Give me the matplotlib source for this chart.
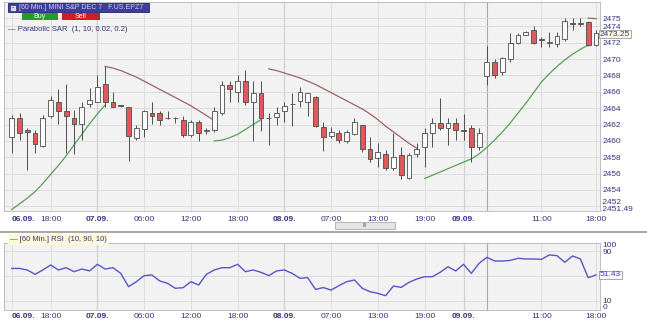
import numpy as np
import matplotlib
matplotlib.use("Agg")
import matplotlib.pyplot as plt
from matplotlib.patches import Rectangle

# 60 min candles, MINI S&P DEC 7
opens = [2460.5, 2462.8, 2461.3, 2461.0, 2459.4, 2463.0, 2464.8, 2463.6, 2462.8, 2462.1,
         2464.5, 2464.8, 2467.0, 2464.7, 2464.35, 2464.1, 2460.4, 2461.4, 2463.4, 2463.4,
         2462.75, 2462.85, 2462.6, 2460.7, 2462.3, 2461.25, 2461.3, 2463.4, 2466.8, 2466.0,
         2467.3, 2464.8, 2465.9, 2462.85, 2462.9, 2463.6, 2464.55, 2464.9, 2464.8, 2465.4,
         2461.7, 2460.6, 2461.0, 2460.0, 2460.8, 2462.0, 2459.0, 2457.9, 2458.4, 2456.7,
         2458.3, 2455.5, 2458.4, 2459.3, 2461.0, 2462.2, 2461.6, 2462.2, 2461.35, 2461.6,
         2459.3, 2467.9, 2469.6, 2468.4, 2470.0, 2472.0, 2473.0, 2473.5, 2472.45, 2472.0,
         2471.8, 2472.4, 2474.45, 2474.45, 2474.5, 2471.7]
highs = [2463.2, 2463.4, 2461.6, 2461.3, 2463.2, 2465.5, 2466.3, 2467.0, 2463.8, 2464.7,
         2466.5, 2468.0, 2469.1, 2466.0, 2464.4, 2464.2, 2462.0, 2463.8, 2464.7, 2463.6,
         2463.6, 2462.9, 2463.0, 2462.6, 2462.6, 2461.6, 2464.2, 2467.3, 2467.3, 2468.0,
         2468.7, 2467.3, 2467.3, 2463.4, 2464.2, 2464.8, 2465.9, 2466.6, 2465.9, 2465.5,
         2462.3, 2461.7, 2461.3, 2461.3, 2462.8, 2462.0, 2460.5, 2459.7, 2458.9, 2461.0,
         2459.3, 2458.5, 2459.7, 2461.6, 2462.8, 2465.2, 2462.8, 2462.8, 2463.3, 2462.0,
         2461.6, 2471.6, 2470.0, 2470.3, 2473.2, 2473.2, 2473.4, 2474.0, 2472.7, 2473.3,
         2473.3, 2475.0, 2475.0, 2475.0, 2474.6, 2473.6]
lows = [2458.5, 2460.1, 2456.5, 2458.5, 2459.3, 2462.8, 2462.1, 2458.5, 2458.4, 2460.1,
        2464.2, 2464.7, 2464.1, 2464.1, 2464.2, 2457.5, 2460.1, 2460.5, 2462.1, 2462.0,
        2462.7, 2462.2, 2460.5, 2460.5, 2460.0, 2460.9, 2461.1, 2463.2, 2464.8, 2464.8,
        2464.4, 2460.0, 2461.2, 2459.5, 2462.0, 2462.3, 2461.8, 2464.2, 2463.1, 2461.7,
        2458.8, 2460.4, 2459.7, 2459.7, 2460.7, 2458.6, 2457.4, 2456.8, 2456.4, 2456.4,
        2455.4, 2455.4, 2458.0, 2456.8, 2459.3, 2461.3, 2459.5, 2460.1, 2460.1, 2457.4,
        2458.9, 2466.8, 2467.7, 2468.0, 2469.7, 2471.9, 2472.9, 2471.9, 2471.5, 2471.5,
        2471.5, 2472.2, 2473.6, 2474.0, 2471.6, 2471.6]
closes = [2462.8, 2461.0, 2461.1, 2459.6, 2462.8, 2465.0, 2463.6, 2463.0, 2462.1, 2464.2,
          2465.0, 2466.6, 2464.7, 2464.2, 2464.25, 2460.6, 2461.6, 2463.6, 2463.1, 2462.6,
          2462.85, 2462.75, 2460.7, 2462.3, 2461.0, 2461.35, 2463.6, 2466.8, 2466.4, 2467.3,
          2464.8, 2465.9, 2462.8, 2462.75, 2463.4, 2464.3, 2464.45, 2466.0, 2465.8, 2461.8,
          2460.5, 2461.1, 2460.1, 2461.1, 2462.3, 2459.0, 2457.8, 2458.7, 2456.7, 2458.0,
          2455.8, 2458.3, 2459.0, 2461.0, 2462.2, 2461.6, 2462.2, 2461.3, 2461.25, 2459.3,
          2461.0, 2469.6, 2468.0, 2470.1, 2472.0, 2473.0, 2473.3, 2472.0, 2472.35, 2472.1,
          2472.8, 2474.6, 2474.35, 2474.35, 2471.7, 2473.25]

nan = np.nan
# Parabolic SAR (1, 10, 0.02, 0.2) - long side (green) and short side (brown)
sar_long = ([2451.6, 2452.3, 2453.0, 2453.8, 2454.8, 2455.9, 2457.0, 2458.2, 2459.5, 2460.8,
             2462.1, 2463.3, 2464.4] + [nan] * 13 +
            [2460.0, 2460.1, 2460.4, 2460.8, 2461.4, 2462.0, 2462.6] + [nan] * 20 +
            [2455.4, 2455.8, 2456.2, 2456.6, 2457.0, 2457.4, 2457.8, 2458.4, 2459.2, 2460.1,
             2461.1, 2462.2, 2463.4, 2464.6, 2465.9, 2467.2, 2468.2, 2469.1, 2469.9, 2470.6,
             2471.2, 2471.7] + [nan])
sar_short = ([nan] * 12 +
             [2469.1, 2468.9, 2468.6, 2468.2, 2467.8, 2467.3, 2466.8, 2466.3, 2465.8, 2465.3,
              2464.8, 2464.3, 2463.7, 2463.1, 2462.5] + [nan] * 6 +
             [2468.8, 2468.6, 2468.3, 2468.0, 2467.7, 2467.3, 2466.9, 2466.4, 2465.9, 2465.4,
              2464.9, 2464.4, 2463.9, 2463.3, 2462.6, 2461.8, 2461.1, 2460.4, 2459.7, 2459.1]
             + [nan] * 21 + [2475.0, 2474.95])

rsi = [62, 62, 59.5, 52.5, 59.5, 67.6, 59.5, 63.2, 56.7, 61,
       58, 68.7, 61, 63.2, 54, 32.4, 40.5, 50.3, 51.4, 41.7,
       37.9, 29.8, 30.8, 40.5, 35.2, 52.5, 59.5, 63.2, 63.2, 68.7,
       56.7, 59.5, 55.7, 50.3, 58, 59.5, 54, 46, 47, 28,
       31, 27, 34, 40.5, 43.3, 29.8, 24.3, 21.6, 17.8, 33.5,
       31.3, 39.5, 44.9, 48.6, 48.6, 55.7, 64.8, 57.9, 68.7, 54,
       70.3, 80, 74, 74, 75, 78.4, 77.3, 77.3, 76.7, 83.8,
       82.7, 72, 82.2, 77.3, 47, 51.43]

tick_pos = [0, 5, 11, 17, 23, 29, 35, 41, 47, 53, 58, 68, 75]
tick_lab = ["06.09.", "18:00", "07.09.", "06:00", "12:00", "18:00", "08.09.",
            "07:00", "13:00", "19:00", "09.09.", "11:00", "18:00"]
day_lines = [11, 35, 58, 61]
price_ticks = [2454, 2456, 2458, 2460, 2462, 2464, 2466, 2468, 2470, 2472, 2474, 2475]

plt.rcParams['font.family'] = ['Liberation Sans', 'DejaVu Sans']
navy = '#34347c'
bg = '#f2f2f2'
grid_c = '#d9d9d9'

W, H = 647, 325
fig = plt.figure(figsize=(W / 100, H / 100), dpi=100, facecolor='white')


def box(l, t, r, b):
    return [l / W, 1 - b / H, (r - l) / W, (b - t) / H]


ax = fig.add_axes(box(4, 2, 600, 210.5))
ax2 = fig.add_axes(box(4, 243, 600, 310))

x = np.arange(len(opens))
o = np.array(opens)
c = np.array(closes)

for a in (ax, ax2):
    a.set_facecolor(bg)
    a.set_xlim(-0.99, 75.52)
    a.set_xticks(tick_pos)
    a.set_xticklabels(tick_lab)
    for lab in a.get_xticklabels():
        if "." in lab.get_text():
            lab.set_fontweight("bold")
    a.get_xticklabels()[0].set_ha("left")
    a.tick_params(axis='both', length=0, labelsize=6, colors=navy, pad=2)
    a.yaxis.tick_right()
    a.grid(True, color=grid_c, lw=0.6)
    a.set_axisbelow(True)
    for d in day_lines:
        a.axvline(d, color='#a9a9a9', lw=0.8, zorder=0.5)
    for s in a.spines.values():
        s.set_color('#b5b5b5')
        s.set_linewidth(0.6)

# main price panel
ax.set_ylim(2451.49, 2476.98)
ax.set_yticks(price_ticks)
ax.axhline(2452, color=grid_c, lw=0.6, zorder=0.4)
ax.tick_params(axis='x', pad=4)

ax.plot(x, sar_long, color='#5a9e5a', lw=0.9, zorder=2)
ax.plot(x, sar_short, color='#a06262', lw=0.9, zorder=2)

edge = '#4d4d4d'
up = c >= o
ax.vlines(x, lows, highs, color=edge, lw=0.7, zorder=3)
body_h = np.maximum(np.abs(c - o), 0.08)
ax.bar(x, body_h, bottom=np.minimum(o, c), width=0.62,
       color=np.where(up, '#fbfbfb', '#e2575a'), edgecolor=edge, linewidth=0.6, zorder=4)

yt = ax.get_yaxis_transform()
ax.text(1.0, 2452.5, " 2452", transform=yt, fontsize=6, color=navy, va='center', ha='left')
ax.text(1.0, 2451.62, " 2451.49", transform=yt, fontsize=6, color=navy, va='center', ha='left')
ax.text(1.0, closes[-1] - 0.2, "2473.25", transform=yt,
        fontsize=6, color=navy, va='center', ha='left',
        bbox=dict(facecolor='#fdfbe0', edgecolor='#888888', lw=0.5, pad=0.4))

# rsi panel
ax2.set_ylim(-5.35, 103.2)
ax2.set_yticks([0, 10, 90, 100])
ax2.grid(False, axis='y')
for lv in (10, 50, 90):
    ax2.axhline(lv, color=grid_c, lw=0.6, zorder=0.4)
ax2.plot(x, rsi, color='#5656c8', lw=1.0, zorder=3)
ax2.text(1.0, rsi[-1], "51.43", transform=ax2.get_yaxis_transform(),
         fontsize=6, color='#3c3cc0', va='center', ha='left',
         bbox=dict(facecolor='#f8f8ff', edgecolor='#888888', lw=0.5, pad=0.6))

# header box, buttons, legends
fig.patches.append(Rectangle((8 / W, 1 - 12 / H), 141 / W, 9 / H, transform=fig.transFigure,
                             facecolor='#3d3d9e', edgecolor='#24246a', lw=0.6))
fig.patches.append(Rectangle((10 / W, 1 - 11 / H), 6 / W, 6 / H, transform=fig.transFigure,
                             facecolor='#d8d8f0', edgecolor='#20205a', lw=0.4))
fig.text(13 / W, 1 - 8 / H, "-", fontsize=5, color='#20205a', ha='center', va='center')
fig.text(19 / W, 1 - 7.5 / H, "[60 Min.] MINI S&P DEC 7   F.US.EPZ7", fontsize=5,
         color='#cfd0ff', ha='left', va='center')
fig.patches.append(Rectangle((22 / W, 1 - 19.5 / H), 36 / W, 6.5 / H, transform=fig.transFigure,
                             facecolor='#1f9e2a', edgecolor='none'))
fig.patches.append(Rectangle((62 / W, 1 - 19.5 / H), 38 / W, 6.5 / H, transform=fig.transFigure,
                             facecolor='#cc1f25', edgecolor='none'))
fig.text(40 / W, 1 - 16.3 / H, "Buy", fontsize=5, color='white', ha='center', va='center')
fig.text(81 / W, 1 - 16.3 / H, "Sell", fontsize=5, color='white', ha='center', va='center')
fig.text(8 / W, 1 - 29.5 / H, "\u2014 Parabolic SAR  (1, 10, 0.02, 0.2)", fontsize=5.5,
         color=navy, ha='left', va='center')

fig.text(10 / W, 1 - 239.5 / H, "\u2014 [60 Min.] RSI  (10, 90, 10)", fontsize=5.5,
         color=navy, ha='left', va='center',
         bbox=dict(facecolor='#fdf9d6', edgecolor='none', pad=1.2))

# scroll bar and panel separator
fig.patches.append(Rectangle((335 / W, 1 - 229 / H), 60 / W, 7 / H, transform=fig.transFigure,
                             facecolor='#e4e4e4', edgecolor='#a0a0a0', lw=0.5))
fig.text(365 / W, 1 - 225.5 / H, "III", fontsize=4, color='#666666', ha='center', va='center')
fig.lines.append(plt.Line2D([0, 1], [1 - 231.5 / H] * 2, transform=fig.transFigure,
                            color='#9a9a9a', lw=1.2))

fig.savefig("out.png", dpi=100, facecolor='white')
